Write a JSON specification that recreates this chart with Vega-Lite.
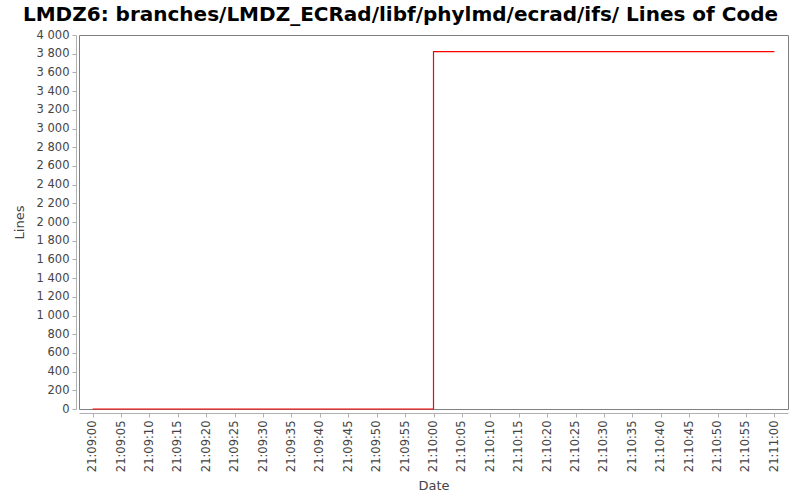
{
  "$schema": "https://vega.github.io/schema/vega-lite/v6.json",
  "autosize": "none",
  "width": 709,
  "height": 374,
  "padding": {"left": 79, "top": 35, "right": 12, "bottom": 91},
  "background": "white",
  "title": {
    "text": "LMDZ6: branches/LMDZ_ECRad/libf/phylmd/ecrad/ifs/ Lines of Code",
    "font": "DejaVu Sans",
    "fontSize": 20,
    "fontWeight": "bold",
    "color": "black",
    "anchor": "middle",
    "dx": -33,
    "offset": 4
  },
  "data": {
    "values": [
      {"date": "2020-01-01T21:09:00Z", "lines": 0},
      {"date": "2020-01-01T21:10:00Z", "lines": 3823},
      {"date": "2020-01-01T21:11:00Z", "lines": 3823}
    ]
  },
  "mark": {
    "type": "line",
    "interpolate": "step-after",
    "color": "#ff0000",
    "strokeWidth": 1.2
  },
  "encoding": {
    "x": {
      "field": "date",
      "type": "temporal",
      "title": "Date",
      "scale": {
        "type": "utc",
        "domain": [
          {"year": 2020, "month": 1, "date": 1, "hours": 21, "minutes": 8, "seconds": 57, "milliseconds": 600, "utc": true},
          {"year": 2020, "month": 1, "date": 1, "hours": 21, "minutes": 11, "seconds": 2, "milliseconds": 400, "utc": true}
        ]
      },
      "axis": {
        "format": "%H:%M:%S",
        "labelAngle": -90,
        "labelAlign": "right",
        "labelBaseline": "middle",
        "offset": 4,
        "grid": false
      }
    },
    "y": {
      "field": "lines",
      "type": "quantitative",
      "title": "Lines",
      "scale": {"domain": [0, 4000], "nice": false},
      "axis": {
        "values": [0, 200, 400, 600, 800, 1000, 1200, 1400, 1600, 1800, 2000, 2200, 2400, 2600, 2800, 3000, 3200, 3400, 3600, 3800, 4000],
        "labelExpr": "datum.value >= 1000 ? floor(datum.value / 1000) + ' ' + format(datum.value % 1000, '03d') : '' + datum.value",
        "offset": 3,
        "grid": false
      }
    }
  },
  "config": {
    "view": {"stroke": "#808080", "strokeWidth": 1},
    "axis": {
      "labelFont": "DejaVu Sans",
      "labelFontSize": 11.5,
      "labelColor": "#444444",
      "labelPadding": 3,
      "titleFont": "DejaVu Sans",
      "titleFontSize": 13,
      "titleFontWeight": "normal",
      "titleColor": "#444444",
      "domainColor": "#b0b0b0",
      "tickColor": "#b0b0b0",
      "tickSize": 4
    },
    "axisY": {"titlePadding": 10},
    "axisX": {"titlePadding": 8}
  }
}
